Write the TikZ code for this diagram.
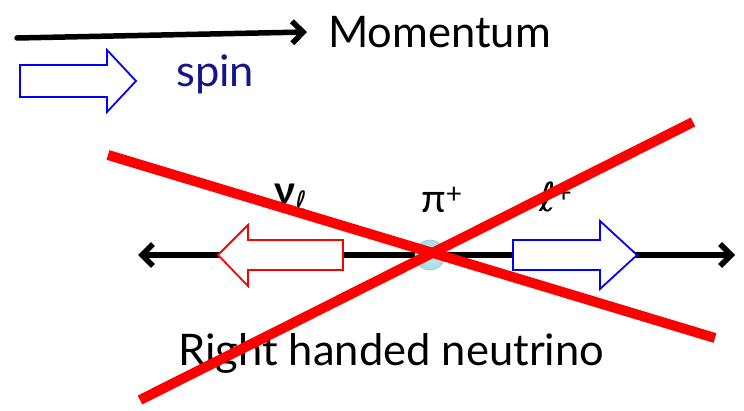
\documentclass[tikz,border=0pt]{standalone}
\usepackage{fontspec}
\setmainfont{Lato}
\newfontfamily\symf{DejaVu Sans}
\usetikzlibrary{arrows.meta}
\definecolor{navy}{RGB}{20,20,140}
\definecolor{pion}{RGB}{165,220,230}
\tikzset{
  lbl/.style={inner sep=0pt, font=\fontsize{40}{48}\selectfont},
  big/.style={inner sep=0pt, font=\fontsize{43.5}{52}\selectfont},
  axisline/.style={line width=5.5pt, black, line cap=round},
  hollowred/.style={draw=red, line width=1.8pt, fill=white},
  hollowblue/.style={draw=blue, line width=1.8pt, fill=white},
  cross/.style={draw=red, line width=10pt}
}
\begin{document}
\begin{tikzpicture}[x=1pt,y=-1pt]
\useasboundingbox (0,0) rectangle (744,411);
% legend
\coordinate (m0) at (17,38);
\node[big, anchor=west] (mom) at (328,32) {Momentum};
\draw[axisline, -{Straight Barb[length=11pt,width=22pt]}] (m0) -- (mom.west -| 307,38);
\draw[hollowblue] (20,65) -- (107,65) -- (107,50) -- (136,81) -- (107,112) -- (107,97) -- (20,97) -- cycle;
\node[big, anchor=west, text=navy] (spin) at (176,74) {spin};
% axis
\coordinate (al) at (138,255);
\coordinate (ar) at (735,255);
\coordinate (c) at (430,255);
\draw[axisline, {Straight Barb[length=11pt,width=22pt]}-{Straight Barb[length=11pt,width=22pt]}] (al) -- (ar);
\draw[hollowred] (343,240) -- (248,240) -- (248,225) -- (218,255) -- (248,286) -- (248,270) -- (343,270) -- cycle;
\draw[hollowblue] (513,240) -- (600,240) -- (600,221) -- (637,255) -- (600,289) -- (600,270) -- (513,270) -- cycle;
\node[circle, minimum size=30pt, inner sep=0pt, inner color=pion!60, outer color=pion, draw=pion!75!gray, line width=0.6pt] (pi) at (c) {};
% labels
\node[lbl, anchor=base west] (nu) at (274,205) {\textbf{ν}\raisebox{-7pt}{\fontsize{28}{34}\selectfont\symf ℓ}};
\node[lbl, anchor=base west] (pil) at (421,213) {π\textsuperscript{+}};
\node[lbl, anchor=base west] (lep) at (539,212) {{\symf ℓ}\textsuperscript{+}};
\node[big, anchor=base west] (rh) at (178,366) {Right handed neutrino};
% cross
\draw[cross] (108,155) -- (715,338);
\draw[cross] (140,400) -- (693,122);
\end{tikzpicture}
\end{document}
